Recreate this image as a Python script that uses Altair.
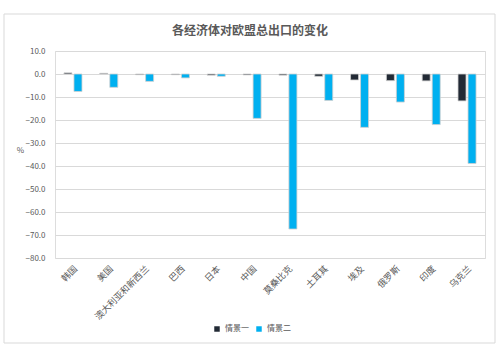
import altair as alt
import pandas as pd

categories = ["韩国", "美国", "澳大利亚和新西兰", "巴西", "日本", "中国", "莫桑比克",
              "土耳其", "埃及", "俄罗斯", "印度", "乌克兰"]
series_names = ["情景一", "情景二"]
scenario1 = [0.5, 0.3, -0.3, -0.3, -0.5, -0.4, -0.5, -1.0, -2.6, -2.9, -3.0, -11.7]
scenario2 = [-7.6, -5.8, -3.2, -1.7, -1.0, -19.3, -67.4, -11.5, -23.2, -12.2, -22.0, -38.9]
y_ticks = [10, 0, -10, -20, -30, -40, -50, -60, -70, -80]
title_text = "各经济体对欧盟总出口的变化"

rows = []
for i, c in enumerate(categories):
    rows.append({"cat": c, "series": series_names[0], "value": scenario1[i]})
    rows.append({"cat": c, "series": series_names[1], "value": scenario2[i]})
df = pd.DataFrame(rows)

FONT = "Noto Sans CJK SC"
TXT = "#595959"

bars = alt.Chart(df).mark_bar(stroke="#d0d0d0", strokeWidth=0.8).encode(
    x=alt.X("cat:N", sort=categories, title=None,
            scale=alt.Scale(paddingInner=0.497, paddingOuter=0.25),
            axis=alt.Axis(labelAngle=-45, labelFontSize=9, labelColor=TXT,
                          domain=False, ticks=False, labelPadding=6,
                          labelFont=FONT)),
    xOffset=alt.XOffset("series:N", sort=series_names,
                        scale=alt.Scale(paddingInner=0.2)),
    y=alt.Y("value:Q", title="%",
            scale=alt.Scale(domain=[-80, 10], nice=False),
            axis=alt.Axis(values=y_ticks, format=".1f", labelFontSize=8,
                          labelColor=TXT, domain=False, ticks=False,
                          gridColor="#d9d9d9", labelPadding=10,
                          titleAngle=0, titleX=-35, titleY=103,
                          titleFontSize=8, titleFontWeight="normal",
                          titleColor=TXT, titleFont=FONT)),
    color=alt.Color("series:N", sort=series_names,
                    scale=alt.Scale(domain=series_names, range=["#222a35", "#00b0f0"]),
                    legend=alt.Legend(title=None, orient="none", legendX=158,
                                      legendY=274, direction="horizontal",
                                      symbolType="square", symbolSize=30,
                                      labelFontSize=8, labelColor=TXT,
                                      labelFont=FONT, columnPadding=6,
                                      symbolStrokeWidth=0)),
)

frame = alt.Chart(alt.Data(values=[{"a": 1}])).mark_rect(
    fill=None, stroke="#d9d9d9", strokeWidth=1, clip=False
).encode(x=alt.value(-51), x2=alt.value(440), y=alt.value(-37), y2=alt.value(292))

title = alt.Chart(alt.Data(values=[{"t": title_text}])).mark_text(
    fontSize=12, color=TXT, font=FONT, fontWeight="bold", align="center",
    baseline="middle", clip=False
).encode(text="t:N", x=alt.value(195), y=alt.value(-20))

chart = alt.layer(frame, title, bars).properties(
    width=430, height=207,
    autosize=alt.AutoSizeParams(type="none"),
    padding={"left": 55, "top": 51, "right": 15, "bottom": 104},
    background="white",
).configure_view(stroke=None).configure(font=FONT)

chart.save("out.html", embed_options={"renderer": "svg", "actions": False})
